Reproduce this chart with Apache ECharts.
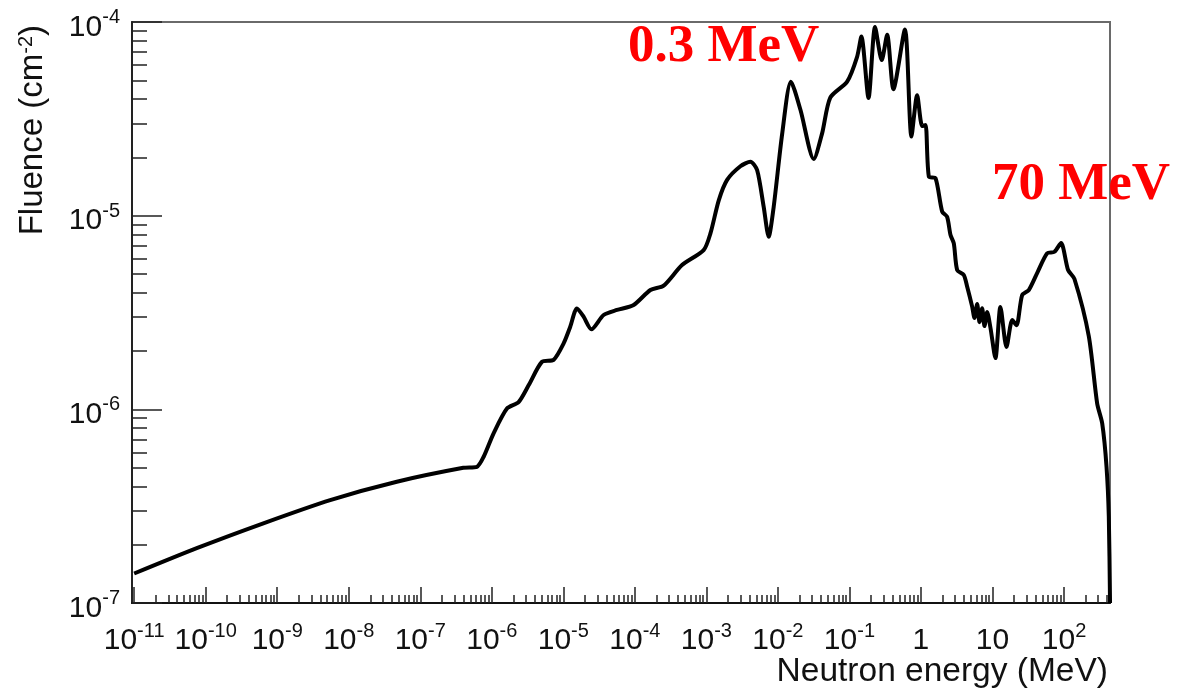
<!DOCTYPE html>
<html><head><meta charset="utf-8">
<script src="https://cdn.jsdelivr.net/npm/echarts@6/dist/echarts.min.js"></script>
<style>html,body{margin:0;padding:0;background:#fff}#c{width:1184px;height:691px}</style>
</head><body><div id="c"></div>
<script>
// Neutron energy (MeV) and fluence (cm^-2)
const energyMeV = [1e-11, 7.5e-11, 6.4e-10, 5.5e-9, 4.7e-8, 4.0e-7, 6.2e-7, 7.7e-7, 1.06e-6, 1.63e-6,
  2.37e-6, 3.27e-6, 5.04e-6, 7.31e-6, 1.01e-5, 1.25e-5, 1.55e-5, 1.92e-5, 2.47e-5, 3.66e-5,
  5.64e-5, 9.62e-5, 1.65e-4, 2.53e-4, 4.57e-4, 9.16e-4, 1.14e-3, 1.49e-3, 1.95e-3, 2.99e-3,
  4.12e-3, 5.12e-3, 6.33e-3, 7.43e-3, 8.73e-3, 1.15e-2, 1.52e-2, 2.07e-2, 3.17e-2, 4.15e-2,
  5.40e-2, 9.29e-2, 0.128, 0.147, 0.185, 0.228, 0.283, 0.337, 0.412, 0.597,
  0.736, 0.885, 1.04, 1.16, 1.29, 1.60, 1.98, 2.32, 2.59, 2.88,
  3.21, 3.97, 4.43, 5.20, 5.60, 6.11, 6.58, 7.17, 7.73, 8.43,
  9.38, 11.0, 12.9, 15.7, 18.9, 21.7, 26.0, 32.2, 42.6, 58.2,
  73.6, 90.8, 114, 140, 222, 291, 342, 393, 423, 440];
const fluence = [1.42e-7, 1.92e-7, 2.58e-7, 3.40e-7, 4.23e-7, 4.99e-7, 5.05e-7, 5.69e-7, 7.52e-7, 1.01e-6,
  1.09e-6, 1.33e-6, 1.76e-6, 1.80e-6, 2.19e-6, 2.67e-6, 3.32e-6, 3.01e-6, 2.59e-6, 3.07e-6,
  3.26e-6, 3.46e-6, 4.13e-6, 4.35e-6, 5.56e-6, 6.64e-6, 8.10e-6, 1.20e-5, 1.53e-5, 1.80e-5,
  1.90e-5, 1.72e-5, 1.11e-5, 7.78e-6, 1.11e-5, 2.66e-5, 4.92e-5, 3.51e-5, 1.96e-5, 2.66e-5,
  4.07e-5, 4.92e-5, 6.61e-5, 8.41e-5, 4.05e-5, 9.41e-5, 6.36e-5, 8.59e-5, 4.50e-5, 9.14e-5,
  2.56e-5, 4.19e-5, 2.90e-5, 2.94e-5, 1.59e-5, 1.56e-5, 1.05e-5, 9.87e-6, 7.94e-6, 7.19e-6,
  5.24e-6, 4.94e-6, 4.30e-6, 3.39e-6, 2.96e-6, 3.50e-6, 2.82e-6, 3.33e-6, 2.69e-6, 3.18e-6,
  2.63e-6, 1.84e-6, 3.38e-6, 2.10e-6, 2.89e-6, 2.72e-6, 3.89e-6, 4.13e-6, 5.1e-6, 6.39e-6,
  6.51e-6, 7.22e-6, 5.24e-6, 4.71e-6, 2.39e-6, 1.07e-6, 8.46e-7, 5.05e-7, 2.79e-7, 1.0e-7];

const xTickExp = [-11, -10, -9, -8, -7, -6, -5, -4, -3, -2, -1, 0, 1, 2];
const xTickLabels = ['10^-11', '10^-10', '10^-9', '10^-8', '10^-7', '10^-6', '10^-5', '10^-4',
  '10^-3', '10^-2', '10^-1', '1', '10', '10^2'];
const yTickExp = [-7, -6, -5, -4];
const yTickLabels = ['10^-7', '10^-6', '10^-5', '10^-4'];
const xTitle = 'Neutron energy (MeV)';
const yTitle = 'Fluence (cm{s|-2})';
const notes = ['0.3 MeV', '70 MeV'];

const xRange = [-11.03, 2.643];
const yRange = [-7, -4];

function minorTicks(range) {
  const out = [];
  for (let n = Math.floor(range[0]) - 1; n <= Math.ceil(range[1]); n++) {
    for (let k = 2; k <= 9; k++) {
      const v = n + Math.log10(k);
      if (v > range[0] && v < range[1]) out.push(v);
    }
  }
  return out;
}
function richLabel(txt) {
  const p = txt.split('^');
  return p.length > 1 ? '{b|' + p[0] + '}{s|' + p[1] + '}' : '{b|' + p[0] + '}';
}
function fmt(exps, labels) {
  return function (v) {
    for (let i = 0; i < exps.length; i++) if (Math.abs(exps[i] - v) < 1e-6) return richLabel(labels[i]);
    return '';
  };
}
const font = 'Liberation Sans, Arial, sans-serif';
const rich = {
  b: { fontSize: 30, lineHeight: 40, fontFamily: font, color: '#111' },
  s: { fontSize: 20, lineHeight: 14, verticalAlign: 'top', fontFamily: font, color: '#111' }
};

const seriesData = energyMeV.map((e, i) => [Math.log10(e), Math.log10(fluence[i])]);

const chart = echarts.init(document.getElementById('c'), null, { renderer: 'canvas' });
chart.setOption({
  animation: false,
  backgroundColor: '#fff',
  grid: { left: 132, right: 74, top: 22, bottom: 88, show: true, borderColor: '#6a6a6a', borderWidth: 2, backgroundColor: 'transparent' },
  xAxis: [
    {
      type: 'value', position: 'bottom', min: xRange[0], max: xRange[1],
      axisLine: { show: true, onZero: false, lineStyle: { color: '#111', width: 2 } },
      axisTick: { show: true, inside: true, length: 16, customValues: xTickExp, lineStyle: { color: '#222', width: 1.5 } },
      axisLabel: { show: true, customValues: xTickExp, margin: 18, formatter: fmt(xTickExp, xTickLabels), rich: rich },
      splitLine: { show: false }
    },
    {
      type: 'value', position: 'bottom', min: xRange[0], max: xRange[1],
      axisLine: { show: false, onZero: false },
      axisTick: { show: true, inside: true, length: 8, customValues: minorTicks(xRange), lineStyle: { color: '#222', width: 1.5 } },
      axisLabel: { show: false },
      splitLine: { show: false }
    }
  ],
  yAxis: [
    {
      type: 'value', position: 'left', min: yRange[0], max: yRange[1],
      axisLine: { show: true, onZero: false, lineStyle: { color: '#222', width: 2 } },
      axisTick: { show: true, inside: true, length: 30, customValues: yTickExp, lineStyle: { color: '#222', width: 1.5 } },
      axisLabel: { show: true, customValues: yTickExp, margin: 12, padding: [11, 0, 0, 0], formatter: fmt(yTickExp, yTickLabels), rich: rich },
      splitLine: { show: false }
    },
    {
      type: 'value', position: 'left', min: yRange[0], max: yRange[1],
      axisLine: { show: false, onZero: false },
      axisTick: { show: true, inside: true, length: 15, customValues: minorTicks(yRange), lineStyle: { color: '#222', width: 1.5 } },
      axisLabel: { show: false },
      splitLine: { show: false }
    }
  ],
  series: [{
    type: 'line', xAxisIndex: 0, yAxisIndex: 0, data: seriesData,
    showSymbol: false, smooth: 0.25,
    lineStyle: { color: '#000', width: 4 },
    z: 3
  }],
  graphic: [
    { type: 'text', x: 33, y: 25, rotation: Math.PI / 2, z: 10,
      style: { text: yTitle, align: 'right', textAlign: 'right', verticalAlign: 'middle', textVerticalAlign: 'middle',
        fontSize: 33, fontFamily: font, fill: '#111',
        rich: { s: { fontSize: 20, fontFamily: font, fill: '#111', verticalAlign: 'top', lineHeight: 14 } } } },
    { type: 'text', x: 1108, y: 672, z: 10,
      style: { text: xTitle, align: 'right', textAlign: 'right', verticalAlign: 'middle', textVerticalAlign: 'middle',
        fontSize: 33.5, fontFamily: font, fill: '#111' } },
    { type: 'text', x: 628, y: 47, z: 10,
      style: { text: notes[0], align: 'left', textAlign: 'left', verticalAlign: 'middle', textVerticalAlign: 'middle',
        fontSize: 53, fontWeight: 'bold', fontFamily: 'Liberation Serif, Times New Roman, serif', fill: '#ff0000' } },
    { type: 'text', x: 992, y: 185, z: 10,
      style: { text: notes[1], align: 'left', textAlign: 'left', verticalAlign: 'middle', textVerticalAlign: 'middle',
        fontSize: 53, fontWeight: 'bold', fontFamily: 'Liberation Serif, Times New Roman, serif', fill: '#ff0000' } }
  ]
});
</script>
</body></html>
